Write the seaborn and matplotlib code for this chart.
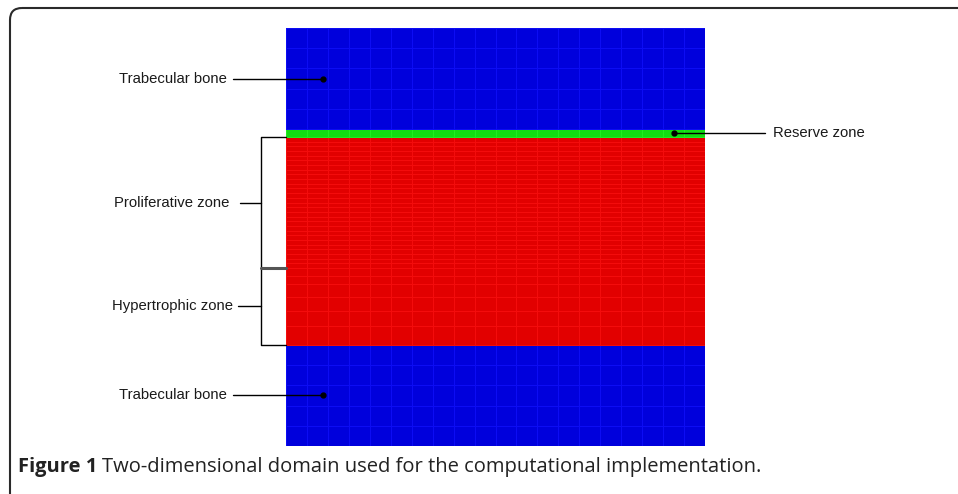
import numpy as np
import matplotlib
matplotlib.use("Agg")
import matplotlib.pyplot as plt
from matplotlib.colors import ListedColormap
from matplotlib.patches import FancyBboxPatch
import seaborn as sns

# =========================
# DATA (domain height normalised to 1, bottom = 0)
# =========================
zones = ["Trabecular bone", "Hypertrophic zone", "Proliferative zone", "Reserve zone", "Trabecular bone"]
zone_bounds = [0.0, 0.242, 0.426, 0.739, 0.758, 1.0]
zone_rows = [5, 6, 28, 1, 5]
hyper_edges = [0.242, 0.287, 0.323, 0.357, 0.388, 0.407, 0.426]  # graded mesh
n_cols = 20

face_colors = ["#0000dc", "#e20000", "#e20000", "#12dc12", "#0000dc"]
edge_colors = ["#0c0cf4", "#f40c0c", "#f40c0c", "#20ec20", "#0c0cf4"]

sns.set_theme(style="white")
plt.rcParams["font.family"] = ["Liberation Sans", "DejaVu Sans"]

fig = plt.figure(figsize=(9.58, 4.94), dpi=100)

# frame around the figure (pixel coordinates)
bg = fig.add_axes([0, 0, 1, 1], zorder=-1)
bg.set_xlim(0, 958)
bg.set_ylim(494, 0)
bg.axis("off")
bg.add_patch(FancyBboxPatch((10, 8), 980, 520, boxstyle="round,pad=0,rounding_size=12",
                            fill=False, edgecolor="#2a2a2a", linewidth=1.5))

# =========================
# MESH
# =========================
ax = fig.add_axes([286 / 958, 48 / 494, 419 / 958, 418 / 494])
x_edges = np.linspace(0, 1, n_cols + 1)
for i, zone in enumerate(zones):
    lo, hi = zone_bounds[i], zone_bounds[i + 1]
    if zone == "Hypertrophic zone":
        y_edges = np.array(hyper_edges)
    else:
        y_edges = np.linspace(lo, hi, zone_rows[i] + 1)
    C = np.zeros((len(y_edges) - 1, n_cols))
    ax.pcolormesh(x_edges, y_edges, C, cmap=ListedColormap([face_colors[i]]),
                  edgecolors=edge_colors[i], linewidth=0.5)
ax.set_xlim(0, 1)
ax.set_ylim(0, 1)
ax.axis("off")

# =========================
# ANNOTATIONS
# =========================
fs = 10.7
mid = [(zone_bounds[i] + zone_bounds[i + 1]) / 2 for i in range(len(zones))]

# trabecular bone (top and bottom)
for i in (0, 4):
    ax.plot([-0.127, 0.088], [mid[i], mid[i]], color="black", lw=1, clip_on=False)
    ax.plot(0.088, mid[i], "o", color="black", ms=3.5, clip_on=False)
    ax.text(-0.141, mid[i], zones[i], ha="right", va="center", fontsize=fs,
            color="#1a1a1a", clip_on=False)

# reserve zone
ax.plot([0.926, 1.143], [mid[3], mid[3]], color="black", lw=1, clip_on=False)
ax.plot(0.926, mid[3], "o", color="black", ms=3.5, clip_on=False)
ax.text(1.162, mid[3], zones[3], ha="left", va="center", fontsize=fs,
        color="#1a1a1a", clip_on=False)

# brackets for proliferative / hypertrophic
bx = -0.06
for i, tx, lx in ((2, -0.136, -0.110), (1, -0.126, -0.115)):
    lo, hi = zone_bounds[i], zone_bounds[i + 1]
    ax.plot([0, bx, bx, 0], [hi, hi, lo, lo], color="black", lw=1, clip_on=False)
    ax.plot([lx, bx], [mid[i], mid[i]], color="black", lw=1, clip_on=False)
    ax.text(tx, mid[i], zones[i], ha="right", va="center", fontsize=fs,
            color="#1a1a1a", clip_on=False)
ax.plot([bx, 0], [zone_bounds[2], zone_bounds[2]], color="#555555", lw=2.2, clip_on=False)

# =========================
# CAPTION
# =========================
cap_y = (494 - 467) / 494
cap_fs = 14.5
t1 = fig.text(18 / 958, cap_y, "Figure 1", fontsize=cap_fs, fontweight="bold",
              family=["Open Sans", "DejaVu Sans"], va="center", color="#222222")
fig.canvas.draw()
bb = t1.get_window_extent(renderer=fig.canvas.get_renderer())
fig.text(bb.x1 / fig.bbox.width + 5 / 958, cap_y,
         "Two-dimensional domain used for the computational implementation.",
         fontsize=cap_fs, family=["Open Sans", "DejaVu Sans"], va="center", color="#222222")

fig.savefig("out.png", dpi=100)
